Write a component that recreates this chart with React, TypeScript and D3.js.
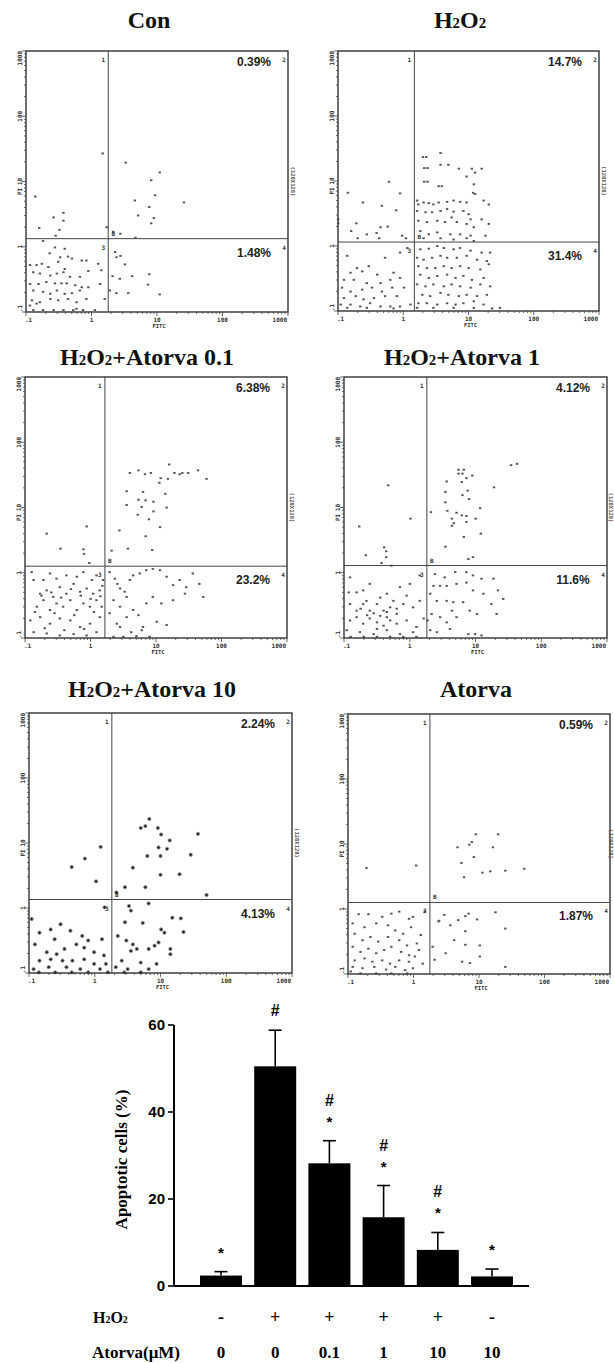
import React from "react";
import * as d3 from "d3";

// ---- flow cytometry panels ----
const panelTitles = ["Con", "H2O2", "H2O2+Atorva 0.1", "H2O2+Atorva 1", "H2O2+Atorva 10", "Atorva"];
const upperRightPct = ["0.39%", "14.7%", "6.38%", "4.12%", "2.24%", "0.59%"];
const lowerRightPct = ["1.48%", "31.4%", "23.2%", "11.6%", "4.13%", "1.87%"];
// quadrant gates (FITC, PI)
const gateFITC = [1.8, 1.48, 1.66, 1.82, 1.82, 1.78];
const gatePI = [1.33, 1.15, 1.26, 1.29, 1.35, 1.26];
const logTicks = [0.1, 1, 10, 100, 1000];
const logTickLabels = [".1", "1", "10", "100", "1000"];

// events, as [log10 FITC, log10 PI]
const conEvents = [
  [0.17, 1.43], [0.52, 1.29], [1.04, 1.14], [0.91, 1.02], [0.97, 0.79], [0.66, 0.71], [1.41, 0.68],
  [0.88, 0.61], [0.71, 0.48], [0.95, 0.44], [0.91, 0.36], [0.33, 0.23], [0.44, 0.2], [0.67, 0.14],
  [-0.86, 0.77], [-0.58, 0.45], [-0.43, 0.52], [-0.43, 0.4], [-0.8, 0.29], [-0.49, 0.26], [-0.55, 0.17], [0.23, 0.3],
  [0.36, -0.08], [0.38, -0.16], [0.44, -0.14], [0.51, -0.27], [0.62, -0.45], [0.88, -0.42], [0.86, -0.58],
  [0.32, -0.45], [0.43, -0.49], [0.38, -0.71], [0.56, -0.71], [1.04, -0.73], [0.28, -0.67],
  [-0.74, 0.09], [-0.56, -0.01], [-0.41, -0.03], [-0.64, -0.1], [-0.48, -0.16], [-0.36, -0.15], [-0.94, -0.28],
  [-0.84, -0.28], [-0.76, -0.26], [-0.66, -0.31], [-0.51, -0.23], [-0.41, -0.34], [-0.3, -0.18], [-0.15, -0.21],
  [-0.08, -0.21], [-0.89, -0.39], [-0.79, -0.41], [-0.63, -0.44], [-0.53, -0.41], [-0.43, -0.39], [-0.33, -0.46],
  [-0.18, -0.46], [-0.05, -0.37], [0.1, -0.26], [0.15, -0.36], [-0.94, -0.57], [-0.81, -0.57], [-0.69, -0.54],
  [-0.56, -0.56], [-0.46, -0.56], [-0.38, -0.56], [-0.25, -0.59], [-0.15, -0.62], [-0.05, -0.62], [0.13, -0.57],
  [-0.89, -0.67], [-0.74, -0.69], [-0.63, -0.72], [-0.53, -0.67], [-0.41, -0.72], [-0.3, -0.71], [-0.18, -0.67],
  [-0.91, -0.82], [-0.79, -0.85], [-0.63, -0.8], [-0.51, -0.82], [-0.36, -0.8], [-0.23, -0.85], [-0.08, -0.8],
  [0.2, -0.8], [-0.89, -0.97], [-0.74, -0.97], [-0.58, -0.97], [-0.43, -0.97], [-0.28, -0.97], [-0.13, -0.97],
  [0.05, -0.97], [-0.94, -0.9], [-0.84, -0.87], [-0.23, -0.95],
];
const h2o2Events = [
  [0.3, 1.37], [0.35, 1.37], [0.57, 1.43], [0.32, 1.2], [0.37, 1.2], [0.57, 1.25], [0.69, 1.25], [0.85, 1.19],
  [0.97, 1.07], [1.05, 1.19], [1.1, 1.13], [1.2, 1.19], [0.32, 0.99], [0.37, 0.99], [0.54, 0.92], [0.59, 0.92],
  [1.08, 0.95], [1.07, 0.82], [1.1, 0.8], [0.21, 0.7], [0.23, 0.64], [0.31, 0.67], [0.39, 0.66], [0.46, 0.64],
  [0.54, 0.67], [0.67, 0.68], [0.77, 0.7], [0.87, 0.68], [0.97, 0.67], [1.23, 0.7], [1.31, 0.64], [0.21, 0.54],
  [0.34, 0.52], [0.44, 0.52], [0.57, 0.54], [0.67, 0.57], [0.77, 0.53], [0.92, 0.54], [1.0, 0.49], [1.03, 0.41],
  [1.2, 0.41], [1.31, 0.34], [0.23, 0.39], [0.36, 0.37], [0.52, 0.39], [0.64, 0.37], [0.74, 0.44], [0.82, 0.37],
  [0.97, 0.34], [1.08, 0.29], [0.26, 0.23], [0.39, 0.18], [0.52, 0.21], [0.72, 0.18], [0.87, 0.18], [1.03, 0.16],
  [1.26, 0.16], [0.31, 0.12], [0.57, 0.12], [0.77, 0.1], [0.97, 0.12], [1.08, 0.08],
  [-0.85, 0.82], [-0.62, 0.67], [-0.22, 0.99], [-0.05, 0.81], [-0.33, 0.62], [-0.11, 0.55], [-0.72, 0.35],
  [-0.8, 0.23], [-0.7, 0.12], [-0.56, 0.18], [-0.41, 0.2], [-0.37, 0.12], [-0.35, 0.29], [-0.24, 0.3],
  [-0.02, 0.16], [0.04, 0.12], [-1.0, 0.41], [-1.0, 0.35],
  [0.26, -0.05], [0.39, -0.04], [0.52, 0.0], [0.62, -0.03], [0.77, -0.05], [0.87, -0.03], [1.03, -0.07],
  [1.2, -0.1], [1.33, -0.1], [0.21, -0.18], [0.31, -0.21], [0.44, -0.18], [0.57, -0.15], [0.67, -0.18],
  [0.82, -0.18], [0.97, -0.15], [1.13, -0.21], [1.28, -0.23], [0.23, -0.31], [0.36, -0.34], [0.49, -0.34],
  [0.62, -0.31], [0.74, -0.34], [0.87, -0.31], [1.0, -0.34], [1.18, -0.36], [1.31, -0.28], [0.26, -0.44],
  [0.39, -0.49], [0.52, -0.46], [0.67, -0.44], [0.8, -0.49], [0.92, -0.46], [1.05, -0.52], [1.23, -0.49],
  [0.21, -0.59], [0.34, -0.62], [0.46, -0.59], [0.62, -0.62], [0.74, -0.59], [0.87, -0.62], [1.03, -0.64],
  [1.18, -0.59], [1.33, -0.62], [0.29, -0.75], [0.41, -0.77], [0.57, -0.72], [0.69, -0.75], [0.85, -0.77],
  [0.97, -0.75], [1.13, -0.77], [1.28, -0.75], [0.23, -0.88], [0.36, -0.88], [0.52, -0.9], [0.67, -0.88],
  [0.8, -0.9], [0.92, -0.88], [1.08, -0.85], [1.23, -0.9], [0.21, -0.95], [0.46, -0.95], [0.77, -0.95],
  [1.08, -0.95], [1.36, -0.96], [1.48, -0.95],
  [-0.86, -0.15], [-0.28, -0.18], [-0.05, -0.1], [0.06, -0.03], [-0.71, -0.34], [-0.53, -0.31], [-0.81, -0.41],
  [-0.63, -0.39], [-0.4, -0.44], [-0.15, -0.41], [-0.91, -0.52], [-0.76, -0.52], [-0.56, -0.57], [-0.35, -0.57],
  [-0.2, -0.52], [-0.05, -0.49], [-0.94, -0.64], [-0.81, -0.7], [-0.63, -0.67], [-0.48, -0.64], [-0.33, -0.7],
  [-0.17, -0.64], [0.01, -0.64], [-0.91, -0.8], [-0.73, -0.77], [-0.61, -0.82], [-0.45, -0.8], [-0.28, -0.77],
  [-0.1, -0.77], [-0.96, -0.9], [-0.81, -0.9], [-0.66, -0.93], [-0.51, -0.88], [-0.35, -0.93], [-0.2, -0.93],
  [-0.05, -0.93], [0.11, -0.9], [-0.86, -0.95], [-0.56, -0.95], [-0.15, -0.96],
];
const atorva01Events = [
  [1.2, 1.66], [0.73, 1.57], [0.6, 1.53], [0.83, 1.51], [0.92, 1.53], [1.07, 1.45], [1.18, 1.44], [1.28, 1.53],
  [1.36, 1.51], [1.4, 1.53], [1.49, 1.53], [1.64, 1.57], [1.77, 1.44], [1.05, 1.38], [0.55, 1.25], [0.8, 1.24],
  [1.14, 1.21], [0.73, 1.12], [0.84, 1.11], [0.96, 1.09], [0.55, 1.04], [0.78, 1.01], [1.16, 1.0], [0.96, 0.94],
  [0.72, 0.89], [0.89, 0.82], [1.06, 0.7], [0.44, 0.65], [0.84, 0.56], [0.57, 0.37], [0.94, 0.35], [0.32, 0.34],
  [-0.67, 0.6], [-0.06, 0.71], [-0.46, 0.37], [-0.11, 0.36], [-0.1, 0.29], [-0.02, 0.15],
  [0.29, 0.01], [0.37, -0.09], [0.41, -0.17], [0.45, -0.24], [0.52, -0.29], [0.6, -0.11], [0.65, -0.04],
  [0.75, -0.01], [0.85, 0.04], [0.95, 0.06], [1.06, 0.04], [1.16, -0.06], [1.26, -0.19], [1.36, -0.11],
  [1.46, -0.22], [1.56, -0.01], [1.66, -0.17], [1.72, -0.37], [0.35, -0.42], [0.45, -0.52], [0.55, -0.37],
  [0.65, -0.57], [0.73, -0.65], [0.85, -0.47], [0.95, -0.37], [1.08, -0.47], [1.16, -0.8], [0.4, -0.78],
  [0.55, -0.68], [0.8, -0.83], [1.01, -0.75], [1.26, -0.42], [1.44, -0.32], [0.29, -0.62], [0.45, -0.83],
  [0.62, -0.91], [0.78, -0.88], [0.35, -0.98], [0.5, -0.98], [0.7, -0.97], [0.9, -0.98],
  [-0.87, -0.11], [-0.77, -0.32], [-0.67, -0.27], [-0.57, -0.37], [-0.47, -0.22], [-0.37, -0.32], [-0.26, -0.17],
  [-0.16, -0.29], [-0.06, -0.24], [0.04, -0.32], [0.14, -0.27], [0.19, -0.11], [-0.82, -0.52], [-0.72, -0.42],
  [-0.62, -0.57], [-0.52, -0.47], [-0.42, -0.52], [-0.31, -0.42], [-0.21, -0.57], [-0.11, -0.47], [-0.01, -0.52],
  [0.09, -0.42], [0.17, -0.52], [-0.92, -0.73], [-0.77, -0.68], [-0.62, -0.78], [-0.47, -0.7], [-0.31, -0.73],
  [-0.16, -0.83], [-0.01, -0.78], [0.14, -0.68], [-0.87, -0.91], [-0.67, -0.93], [-0.47, -0.96], [-0.26, -0.94],
  [-0.06, -0.96], [0.09, -0.91], [-0.9, 0.01], [-0.62, -0.01], [-0.37, -0.04], [-0.11, 0.01], [0.09, -0.04],
  [-0.72, -0.11], [-0.52, -0.09], [-0.21, -0.06], [0.02, -0.11], [-0.75, -0.35], [-0.6, -0.3], [-0.45, -0.38],
  [-0.3, -0.25], [-0.15, -0.35], [0.0, -0.4], [0.15, -0.36], [-0.85, -0.6], [-0.55, -0.62], [-0.25, -0.65],
  [0.05, -0.6], [-0.7, -0.85], [-0.4, -0.88], [-0.1, -0.86], [0.18, -0.2],
];
const atorva1Events = [
  [1.54, 1.65], [1.63, 1.67], [0.74, 1.58], [0.82, 1.58], [0.74, 1.52], [0.8, 1.52], [0.86, 1.45], [0.95, 1.49],
  [0.79, 1.39], [0.56, 1.4], [1.28, 1.31], [0.54, 1.24], [0.88, 1.26], [0.8, 1.19], [0.9, 1.13], [0.54, 1.08],
  [1.07, 0.99], [0.32, 0.93], [0.57, 0.95], [0.71, 0.92], [0.79, 0.88], [0.86, 0.87], [1.0, 0.83], [0.64, 0.83],
  [0.67, 0.76], [0.64, 0.72], [0.86, 0.78], [1.08, 0.6], [0.82, 0.55], [0.54, 0.4], [0.89, 0.21], [0.96, 0.24],
  [-0.33, 1.34], [-0.77, 0.71], [0.01, 0.83], [-0.67, 0.27], [-0.39, 0.39], [-0.36, 0.33], [-0.36, 0.24],
  [-0.43, 0.15], [-0.28, 0.11],
  [0.38, -0.02], [0.53, -0.07], [0.69, 0.01], [0.86, 0.01], [0.96, -0.04], [1.09, -0.09], [1.27, -0.09],
  [1.34, -0.27], [1.42, -0.4], [0.36, -0.2], [0.46, -0.2], [0.56, -0.2], [0.71, -0.17], [0.86, -0.15],
  [0.96, -0.27], [1.12, -0.32], [1.24, -0.48], [1.32, -0.63], [0.31, -0.32], [0.41, -0.43], [0.56, -0.43],
  [0.66, -0.45], [0.81, -0.45], [0.91, -0.58], [1.02, -0.63], [0.33, -0.63], [0.46, -0.68], [0.56, -0.76],
  [0.71, -0.68], [0.31, -0.88], [0.41, -0.91], [0.61, -0.86], [0.89, -0.94], [0.99, -0.94], [1.09, -0.96],
  [0.64, -0.58], [0.27, -0.73],
  [-0.91, -0.07], [-0.81, -0.3], [-0.71, -0.27], [-0.61, -0.17], [-0.45, -0.38], [-0.35, -0.32], [-0.25, -0.43],
  [-0.15, -0.22], [0.0, -0.17], [0.15, -0.04], [-0.91, -0.48], [-0.81, -0.58], [-0.71, -0.48], [-0.61, -0.58],
  [-0.5, -0.48], [-0.4, -0.58], [-0.3, -0.53], [-0.2, -0.63], [-0.1, -0.48], [0.05, -0.53], [0.15, -0.43],
  [-0.91, -0.73], [-0.81, -0.68], [-0.71, -0.78], [-0.61, -0.7], [-0.5, -0.76], [-0.4, -0.81], [-0.3, -0.73],
  [-0.2, -0.78], [-0.05, -0.73], [0.1, -0.83], [0.21, -0.7], [-0.96, -0.88], [-0.76, -0.91], [-0.55, -0.94],
  [-0.35, -0.88], [-0.15, -0.94], [0.05, -0.91], [-0.93, -0.3], [-0.66, -0.43], [-0.05, -0.35], [-0.35, -0.68],
  [-0.5, -0.86], [-0.55, -0.62], [-0.45, -0.66], [-0.35, -0.6], [-0.2, -0.55], [-0.75, -0.55], [-0.65, -0.65],
  [-0.9, -0.98], [-0.7, -0.98], [-0.5, -0.98], [-0.3, -0.98], [-0.1, -0.98], [0.1, -0.98],
];
const atorva10Events = [
  [0.83, 1.37], [0.7, 1.23], [0.77, 1.26], [0.96, 1.23], [1.01, 1.13], [1.14, 1.04], [1.57, 1.14], [0.97, 0.93],
  [1.1, 0.91], [1.0, 0.8], [0.8, 0.8], [0.58, 0.62], [1.46, 0.82], [1.0, 0.51], [1.29, 0.52], [0.46, 0.32],
  [0.77, 0.32], [1.7, 0.2], [0.33, 0.24],
  [-0.35, 0.63], [-0.15, 0.76], [0.09, 0.94], [0.02, 0.41],
  [0.52, 0.03], [0.55, -0.04], [0.46, -0.22], [0.73, -0.23], [0.82, 0.07], [1.01, -0.33], [1.06, -0.38],
  [1.18, -0.15], [1.31, -0.16], [1.35, -0.37], [0.48, -0.5], [0.58, -0.56], [0.55, -0.66], [0.64, -0.63],
  [0.82, -0.63], [0.91, -0.58], [0.97, -0.53], [1.15, -0.63], [1.15, -0.71], [0.35, -0.43], [0.41, -0.81],
  [0.7, -0.84], [0.94, -0.86], [0.5, -0.94], [0.82, -0.94], [0.32, -0.91],
  [0.15, 0.01], [-0.84, -0.38], [-0.67, -0.33], [-0.52, -0.25], [-0.37, -0.35], [-0.19, -0.43], [-0.1, -0.5],
  [0.11, -0.48], [-0.91, -0.56], [-0.73, -0.68], [-0.58, -0.71], [-0.46, -0.63], [-0.28, -0.56], [-0.16, -0.61],
  [-0.01, -0.68], [0.14, -0.73], [-0.84, -0.81], [-0.67, -0.79], [-0.49, -0.81], [-0.34, -0.81], [-0.16, -0.79],
  [-0.01, -0.86], [0.17, -0.86], [-0.93, -0.94], [-0.7, -0.91], [-0.43, -0.91], [-0.22, -0.94], [0.08, -0.94],
  [-0.61, -0.48], [-0.96, -0.17], [-0.85, -0.99], [-0.6, -0.99], [-0.35, -0.99], [-0.1, -0.99], [0.2, -0.99],
  [0.45, -0.99], [0.7, -0.99],
];
const atorvaEvents = [
  [0.95, 1.15], [1.29, 1.15], [0.67, 0.95], [0.85, 0.99], [0.89, 1.03], [1.21, 0.95], [0.92, 0.8], [0.73, 0.71],
  [0.77, 0.49], [1.05, 0.56], [1.17, 0.58], [1.4, 0.59], [1.69, 0.62], [-0.72, 0.63], [0.04, 0.67],
  [0.38, -0.19], [0.39, -0.18], [0.56, -0.25], [0.68, -0.17], [0.79, -0.11], [0.84, -0.07], [0.47, -0.09],
  [0.97, -0.16], [1.25, -0.05], [1.4, -0.3], [0.62, -0.48], [0.79, -0.34], [1.01, -0.56], [0.79, -0.55],
  [1.01, -0.73], [0.49, -0.68], [0.29, -0.58], [0.32, -0.78], [0.74, -0.81], [0.86, -0.83], [1.4, -0.89],
  [-0.84, -0.08], [-0.69, -0.08], [-0.48, -0.12], [-0.34, -0.07], [-0.22, -0.04], [-0.07, -0.15], [-0.01, -0.12],
  [0.17, -0.04], [-0.93, -0.22], [-0.75, -0.28], [-0.57, -0.22], [-0.39, -0.25], [-0.28, -0.33], [-0.16, -0.38],
  [-0.04, -0.28], [0.11, -0.4], [-0.9, -0.38], [-0.78, -0.48], [-0.66, -0.43], [-0.54, -0.5], [-0.39, -0.43],
  [-0.22, -0.48], [-0.1, -0.56], [0.05, -0.53], [-0.93, -0.58], [-0.81, -0.66], [-0.69, -0.61], [-0.57, -0.68],
  [-0.45, -0.63], [-0.34, -0.58], [-0.19, -0.66], [-0.07, -0.71], [0.08, -0.63], [-0.9, -0.79], [-0.75, -0.76],
  [-0.63, -0.81], [-0.48, -0.79], [-0.36, -0.84], [-0.22, -0.79], [-0.07, -0.81], [0.02, -0.73], [-0.93, -0.89],
  [-0.78, -0.91], [-0.6, -0.89], [-0.42, -0.93], [-0.28, -0.89], [-0.13, -0.94], [-0.01, -0.91], [0.14, -0.84],
  [-0.96, -0.96], [-0.81, -0.99], [-0.57, -0.99], [-0.34, -0.99], [-0.1, -0.99],
];
const panelEvents = [conEvents, h2o2Events, atorva01Events, atorva1Events, atorva10Events, atorvaEvents];

// ---- bar chart ----
const groupKeys = ["con", "h2o2", "a01", "a1", "a10", "atorva"];
const h2o2Row = ["-", "+", "+", "+", "+", "-"];
const atorvaRow = ["0", "0", "0.1", "1", "10", "10"];
const apoptosisMean = [2.4, 50.5, 28.2, 15.8, 8.3, 2.2];
const apoptosisErr = [0.9, 8.3, 5.2, 7.3, 4.0, 1.7];
const sigMarks = [["*"], ["#"], ["*", "#"], ["*", "#"], ["*", "#"], ["*"]];
const barTicks = [0, 20, 40, 60];

const SERIF = "'Liberation Serif', 'Times New Roman', serif";
const SANS = "'Liberation Sans', Arial, sans-serif";
const MONO = "'DejaVu Sans Mono', monospace";

// panel layout on the page
const panels = [
  { x0: 26, x1: 288, y0: 51, y1: 312, tx: 149, ty: 28 },
  { x0: 338, x1: 599, y0: 51, y1: 311, tx: 460, ty: 28 },
  { x0: 25, x1: 287, y0: 377, y1: 638, tx: 147, ty: 365 },
  { x0: 344, x1: 607, y0: 377, y1: 638, tx: 462, ty: 365 },
  { x0: 29, x1: 292, y0: 713, y1: 973, tx: 152, ty: 697 },
  { x0: 348, x1: 610, y0: 714, y1: 974, tx: 476, ty: 697 },
];

function Chem({ text }: { text: string }) {
  const out: any[] = [];
  let buf = "";
  for (let k = 0; k < text.length; k++) {
    const c = text[k];
    if (c === "2" && (text[k - 1] === "H" || text[k - 1] === "O")) {
      if (buf) out.push(buf);
      buf = "";
      out.push(<tspan key={k} fontSize="0.62em">2</tspan>);
    } else buf += c;
  }
  if (buf) out.push(buf);
  return <>{out}</>;
}

function FlowPanel({ i }: { i: number }) {
  const b = panels[i];
  const x = d3.scaleLog().domain([0.1, 1000]).range([b.x0, b.x1]);
  const y = d3.scaleLog().domain([0.1, 1000]).range([b.y1, b.y0]);
  const gx = x(gateFITC[i]);
  const gy = y(gatePI[i]);
  const allTicks = x.ticks();
  const isMajor = (t: number) => logTicks.some((m) => Math.abs(m - t) / m < 1e-6);
  const dark = i === 4;
  // the right-hand resolution label sits just off the box; keep it on the page
  const rx = Math.min(b.x1 + 3, 609);
  return (
    <g>
      <text x={b.tx} y={b.ty} textAnchor="middle" fontFamily={SERIF} fontWeight="bold" fontSize={24} fill="#111">
        <Chem text={panelTitles[i]} />
      </text>
      {panelEvents[i].map(([lx, ly], k) =>
        dark ? (
          <circle key={k} cx={x(10 ** lx)} cy={y(10 ** ly)} r={1.7} fill="#222" stroke="#999" strokeWidth={0.8} />
        ) : (
          <rect key={k} x={x(10 ** lx) - 1.1} y={y(10 ** ly) - 0.9} width={2.4} height={1.9} fill="#555" />
        )
      )}
      <rect x={b.x0} y={b.y0} width={b.x1 - b.x0} height={b.y1 - b.y0} fill="none" stroke="#333" strokeWidth={1.4} />
      <line x1={gx} x2={gx} y1={b.y0} y2={b.y1} stroke="#444" strokeWidth={1} />
      <line x1={b.x0} x2={b.x1} y1={gy} y2={gy} stroke="#444" strokeWidth={1} />
      {allTicks.map((t, k) => {
        const len = isMajor(t) ? 4 : 2;
        return (
          <g key={k} stroke="#444" strokeWidth={0.8}>
            <line x1={x(t)} x2={x(t)} y1={b.y1} y2={b.y1 + len} />
            <line x1={b.x0} x2={b.x0 - len} y1={y(t)} y2={y(t)} />
          </g>
        );
      })}
      {logTicks.map((t, k) => (
        <text
          key={"x" + k}
          x={k === 0 ? b.x0 - 1 : k === 4 ? b.x1 - 1 : x(t)}
          y={b.y1 + 10}
          textAnchor={k === 0 ? "start" : k === 4 ? "end" : "middle"}
          fontFamily={MONO}
          fontWeight="bold"
          fontSize={6}
          fill="#333"
        >
          {logTickLabels[k]}
        </text>
      ))}
      {logTicks.map((t, k) => {
        const ty = k === 0 ? b.y1 : k === 4 ? b.y0 : y(t);
        return (
          <text
            key={"y" + k}
            transform={`translate(${b.x0 - 4},${ty}) rotate(-90)`}
            textAnchor={k === 0 ? "start" : k === 4 ? "end" : "middle"}
            fontFamily={MONO}
            fontWeight="bold"
            fontSize={6}
            fill="#333"
          >
            {logTickLabels[k]}
          </text>
        );
      })}
      <text x={x(10) + 2} y={b.y1 + 16} textAnchor="middle" fontFamily={MONO} fontWeight="bold" fontSize={5.5} fill="#333">
        FITC
      </text>
      <text transform={`translate(${b.x0 - 4},${y(10) + 10}) rotate(-90)`} textAnchor="middle" fontFamily={MONO} fontWeight="bold" fontSize={6} fill="#333">
        PI
      </text>
      <text transform={`translate(${rx},${y(10)}) rotate(90)`} textAnchor="middle" fontFamily={MONO} fontWeight="bold" fontSize={5.5} fill="#555">
        (128X128)
      </text>
      <text x={b.x1 - 34} y={b.y0 + 15} textAnchor="middle" fontFamily={SANS} fontWeight="bold" fontSize={12} fill="#222">
        {upperRightPct[i]}
      </text>
      <text x={b.x1 - 34} y={gy + 18} textAnchor="middle" fontFamily={SANS} fontWeight="bold" fontSize={12} fill="#222">
        {lowerRightPct[i]}
      </text>
      {[
        ["1", gx - 5, b.y0 + 11],
        ["2", b.x1 - 4, b.y0 + 11],
        ["3", gx - 5, gy + 11],
        ["4", b.x1 - 4, gy + 11],
        ["B", gx + 5, gy - 3],
      ].map(([s, tx, ty], k) => (
        <text key={k} x={tx as number} y={ty as number} textAnchor="middle" fontFamily={MONO} fontWeight="bold" fontSize={6} fill="#333">
          {s}
        </text>
      ))}
    </g>
  );
}

function BarChart() {
  const x = d3.scalePoint<string>().domain(groupKeys).range([221, 492]);
  const y = d3.scaleLinear().domain([0, 60]).range([1286, 1025]);
  const bw = 42;
  const x0 = 174;
  return (
    <g>
      {groupKeys.map((g, i) => {
        const cx = x(g) as number;
        const top = y(apoptosisMean[i] + apoptosisErr[i]);
        return (
          <g key={g}>
            <rect x={cx - bw / 2} y={y(apoptosisMean[i])} width={bw} height={y(0) - y(apoptosisMean[i])} fill="#000" />
            <line x1={cx} x2={cx} y1={y(apoptosisMean[i])} y2={top} stroke="#000" strokeWidth={1.6} />
            <line x1={cx - 6.5} x2={cx + 6.5} y1={top} y2={top} stroke="#000" strokeWidth={1.6} />
            {sigMarks[i].map((m, k) => (
              <text
                key={k}
                x={cx}
                y={top - 14 - k * 21}
                textAnchor="middle"
                fontFamily={SANS}
                fontWeight="bold"
                fontSize={m === "#" ? 16 : 15}
                fill="#000"
              >
                {m}
              </text>
            ))}
            <text x={cx} y={1323} textAnchor="middle" fontFamily={SERIF} fontWeight="bold" fontSize={18} fill="#000">
              {h2o2Row[i]}
            </text>
            <text x={cx} y={1358} textAnchor="middle" fontFamily={SERIF} fontWeight="bold" fontSize={17} fill="#000">
              {atorvaRow[i]}
            </text>
          </g>
        );
      })}
      <line x1={x0} x2={x0} y1={y(0)} y2={y(60)} stroke="#000" strokeWidth={2} />
      <line x1={x0} x2={529} y1={y(0)} y2={y(0)} stroke="#000" strokeWidth={2} />
      {barTicks.map((t) => (
        <g key={t}>
          <line x1={x0 - 6} x2={x0} y1={y(t)} y2={y(t)} stroke="#000" strokeWidth={1.6} />
          <text x={x0 - 9} y={y(t)} dy="0.36em" textAnchor="end" fontFamily={SANS} fontWeight="bold" fontSize={15} fill="#000">
            {t}
          </text>
        </g>
      ))}
      <text transform={`translate(127,${(y(0) + y(60)) / 2 + 4}) rotate(-90)`} textAnchor="middle" fontFamily={SERIF} fontWeight="bold" fontSize={17} fill="#000">
        Apoptotic cells (%)
      </text>
      <text x={93} y={1323} fontFamily={SERIF} fontWeight="bold" fontSize={16} fill="#000">
        <Chem text="H2O2" />
      </text>
      <text x={92} y={1358} fontFamily={SERIF} fontWeight="bold" fontSize={17} fill="#000">
        Atorva(μM)
      </text>
    </g>
  );
}

export default function App() {
  return (
    <svg width={614} height={1363} style={{ position: "absolute", left: 0, top: 0, background: "#fff" }}>
      <rect width={614} height={1363} fill="#fff" />
      {panels.map((_, i) => (
        <FlowPanel key={i} i={i} />
      ))}
      <BarChart />
    </svg>
  );
}
